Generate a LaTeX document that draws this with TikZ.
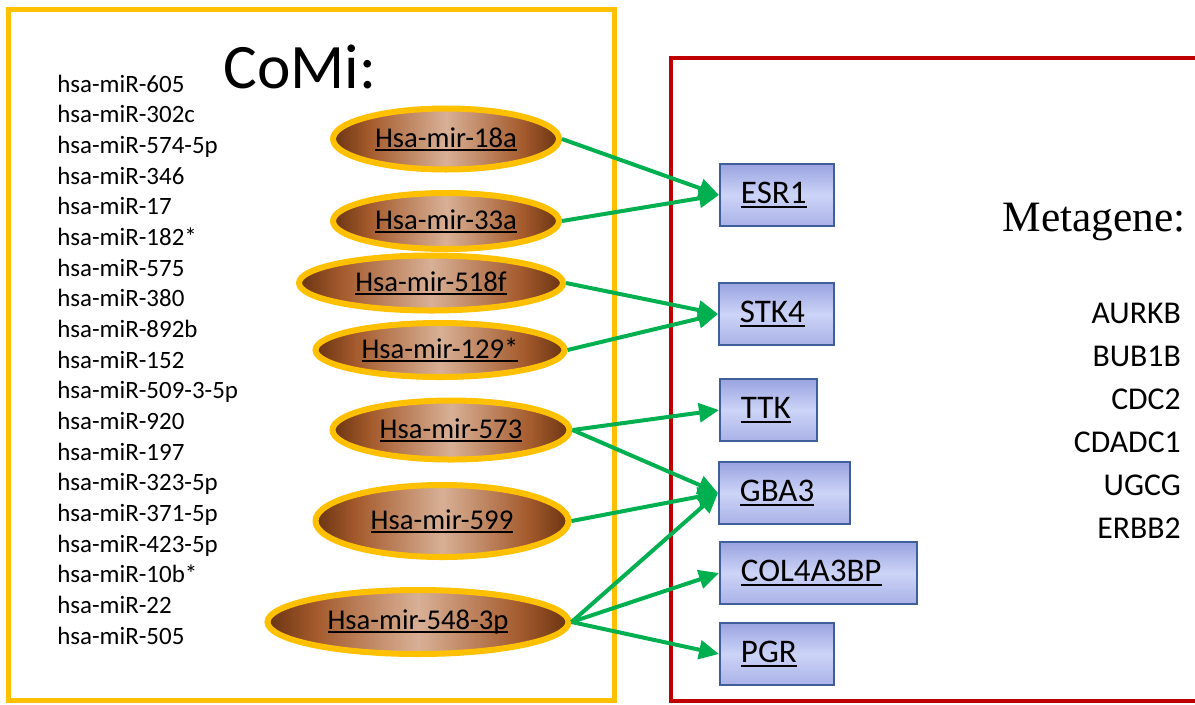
\documentclass[tikz,border=0pt]{standalone}
\usepackage{fontspec}
\setmainfont{Carlito}
\newfontfamily\metafont{Liberation Serif}
\usetikzlibrary{arrows.meta,shapes.geometric}

% underline drawn at a fixed depth below the baseline
\newcommand\ulabel[1]{\setbox0\hbox{#1}\rlap{\rule[-0.13em]{\wd0}{0.065em}}\box0}

\definecolor{frameyellow}{HTML}{FFC000}
\definecolor{framered}{HTML}{C00000}
\definecolor{linkgreen}{HTML}{00B050}
\definecolor{mirdark}{HTML}{6A3412}
\definecolor{mirmid}{HTML}{A45A2C}
\definecolor{mirlight}{HTML}{D8B096}
\definecolor{genetop}{HTML}{9AA3E0}
\definecolor{genemid}{HTML}{CCD4F7}
\definecolor{genebot}{HTML}{AAB2E8}
\definecolor{geneedge}{HTML}{3F5F99}

% brown barrel shading: dark rims, light centre
\pgfdeclarehorizontalshading{mirshade}{100bp}{%
  color(0bp)=(mirdark); color(25bp)=(mirdark); color(33bp)=(mirmid);
  color(50bp)=(mirlight); color(67bp)=(mirmid); color(75bp)=(mirdark);
  color(100bp)=(mirdark)}

\tikzset{
  mir/.style={ellipse, draw=frameyellow, line width=4.5pt, shading=mirshade,
    inner sep=0pt, font=\fontsize{21.5}{24}\selectfont},
  gene/.style={rectangle, draw=geneedge, line width=1.4pt, top color=genetop,
    bottom color=genebot, middle color=genemid, minimum height=46.5pt,
    inner xsep=15.75pt, inner ysep=0pt, align=left, anchor=west,
    font=\fontsize{24.75}{28}\selectfont},
  mirname/.style={anchor=base west, inner sep=0pt, font=\fontsize{18.7}{23}\selectfont},
  metaname/.style={anchor=base east, inner sep=0pt, font=\fontsize{23.8}{28}\selectfont},
  link/.style={draw=linkgreen, line width=3pt,
    -{Triangle[length=15pt,width=14pt]}},
}

\begin{document}
\begin{tikzpicture}[x=0.75pt,y=-0.75pt]
\useasboundingbox (0,0) rectangle (1195,704);

% group frames
\draw[frameyellow, line width=3.75pt] (8,9) rectangle (614,700);
\draw[framered, line width=3pt] (671,58) rectangle (1215,701);

% headings
\node[anchor=base west, inner sep=0pt, font=\fontsize{47.5}{54}\selectfont]
  (comi) at (223,88) {CoMi:};
\node[anchor=base east, inner sep=0pt, font=\metafont\fontsize{32.5}{36}\selectfont]
  (meta) at (1186,231) {Metagene:};

% co-expressed miRNA list
\foreach \name [count=\i from 0] in {hsa-miR-605,hsa-miR-302c,hsa-miR-574-5p,
  hsa-miR-346,hsa-miR-17,hsa-miR-182*,hsa-miR-575,hsa-miR-380,hsa-miR-892b,
  hsa-miR-152,hsa-miR-509-3-5p,hsa-miR-920,hsa-miR-197,hsa-miR-323-5p,
  hsa-miR-371-5p,hsa-miR-423-5p,hsa-miR-10b*,hsa-miR-22,hsa-miR-505}
  \node[mirname] (list\i) at (57,{92+30.67*\i}) {\name};

% metagene list
\foreach \name [count=\i from 0] in {AURKB,BUB1B,CDC2,CDADC1,UGCG,ERBB2}
  \node[metaname] (meta\i) at (1181,{323+43*\i}) {\name};

% miRNA ellipses
\node[mir, minimum width=226pt*0.75, minimum height=61pt*0.75] (m18a) at (446,139) {\ulabel{Hsa-mir-18a}};
\node[mir, minimum width=226pt*0.75, minimum height=56pt*0.75] (m33a) at (446,221) {\ulabel{Hsa-mir-33a}};
\node[mir, minimum width=264pt*0.75, minimum height=55pt*0.75] (m518f) at (431,283) {\ulabel{Hsa-mir-518f}};
\node[mir, minimum width=249pt*0.75, minimum height=54pt*0.75] (m129) at (440,350) {\ulabel{Hsa-mir-129*}};
\node[mir, minimum width=237pt*0.75, minimum height=59pt*0.75] (m573) at (451,430) {\ulabel{Hsa-mir-573}};
\node[mir, minimum width=253pt*0.75, minimum height=72pt*0.75] (m599) at (442,521) {\ulabel{Hsa-mir-599}};
\node[mir, minimum width=301pt*0.75, minimum height=64pt*0.75] (m548) at (418,622) {\ulabel{Hsa-mir-548-3p}};

% target genes
\node[gene, text width=54pt]    (esr1) at (719,195) {\ulabel{ESR1}};
\node[gene, text width=54.75pt] (stk4) at (718,314) {\ulabel{STK4}};
\node[gene, text width=41.25pt] (ttk)  at (719,410) {\ulabel{TTK}};
\node[gene, text width=66.75pt] (gba3) at (718,493) {\ulabel{GBA3}};
\node[gene, text width=116.25pt] (col) at (719,573) {\ulabel{COL4A3BP}};
\node[gene, text width=54pt]    (pgr)  at (719,654) {\ulabel{PGR}};

% regulation links
\draw[link] (m18a.east)  -- (esr1.west);
\draw[link] (m33a.east)  -- (esr1.west);
\draw[link] (m518f.east) -- (stk4.west);
\draw[link] (m129.east)  -- (stk4.west);
\draw[link] (m573.east)  -- (ttk.west);
\draw[link] (m573.east)  -- (gba3.west);
\draw[link] (m599.east)  -- (gba3.west);
\draw[link] (m548.east)  -- (gba3.west);
\draw[link] (m548.east)  -- (col.west);
\draw[link] (m548.east)  -- (pgr.west);
\end{tikzpicture}
\end{document}
